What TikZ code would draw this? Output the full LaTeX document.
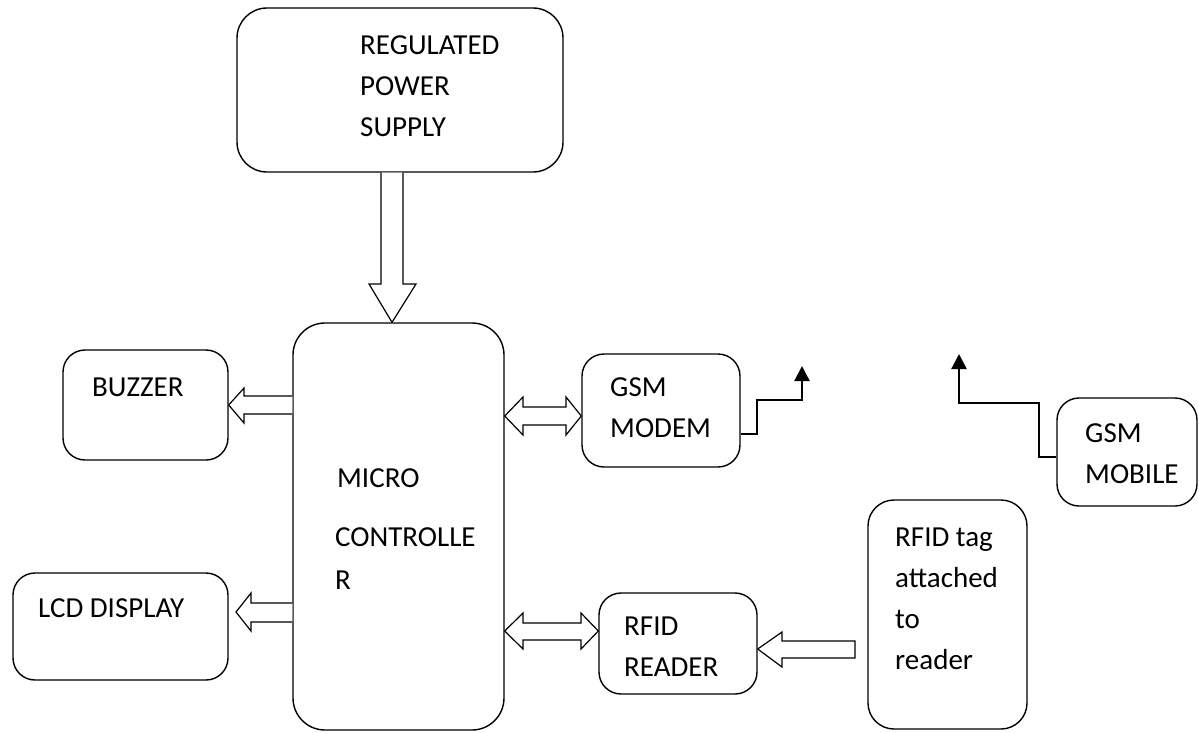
\documentclass[tikz,border=0pt]{standalone}
\usepackage{fontspec}
\setmainfont{Carlito}
\usetikzlibrary{arrows.meta}
\usetikzlibrary{positioning}

\begin{document}
\begin{tikzpicture}[x=1pt, y=-1pt,
  box/.style={draw, line width=1.4pt, rounded corners=22pt, inner sep=0pt},
  txt/.style={anchor=base west, inner sep=0pt, align=left, font=\fontsize{29}{41}\selectfont},
  blockpfeil/.style={draw, line width=1.2pt, fill=white},
  antenne/.style={line width=2.2pt, -{Triangle[width=15pt,length=15pt]}}]

  % Rahmen
  \useasboundingbox (0,0) rectangle (1199,732);

  % Bloecke
  \node[box, rounded corners=30pt, minimum width=326pt, minimum height=164pt] (rps) at (400,90) {};
  \node[box, rounded corners=32pt, minimum width=211pt, minimum height=407pt] (mc) at (398.5,526.5) {};
  \node[box, minimum width=165pt, minimum height=110pt] (buzzer) at (145.5,405) {};
  \node[box, minimum width=215pt, minimum height=107pt] (lcd) at (120.5,626.5) {};
  \node[box, minimum width=158pt, minimum height=113pt] (modem) at (661,410.5) {};
  \node[box, minimum width=158pt, minimum height=101pt] (reader) at (678,643.5) {};
  \node[box, minimum width=140pt, minimum height=108pt] (mobile) at (1127,452) {};
  \node[box, rounded corners=26pt, minimum width=159pt, minimum height=229pt] (tag) at (947.5,614.5) {};

  % Beschriftungen (Grundlinie der letzten Zeile)
  \node[txt] (rpsText) at (360,136) {REGULATED\\POWER\\SUPPLY};
  \node[txt] (mcText) at (337,487) {MICRO};
  \node[txt, font=\fontsize{29}{43}\selectfont] (mcText2) at (335,589) {CONTROLLE\\R};
  \node[txt] (buzzerText) at (92,396) {BUZZER};
  \node[txt] (lcdText) at (38,617) {LCD DISPLAY};
  \node[txt] (modemText) at (610,437) {GSM\\MODEM};
  \node[txt] (readerText) at (624,676) {RFID\\READER};
  \node[txt] (mobileText) at (1085,483) {GSM\\MOBILE};
  \node[txt] (tagText) at (895,669) {RFID tag\\attached\\to\\reader};

  % Blockpfeile
  \draw[blockpfeil] (rps.south -| 381,0) -- (381,284) -- (369,284) -- (mc.north -| 392,0)
    -- (416,284) -- (403,284) -- (rps.south -| 403,0);
  \draw[blockpfeil] (mc.west |- 0,396) -- (244,396) -- (244,388) -- (buzzer.east |- 0,405)
    -- (244,423) -- (244,414) -- (mc.west |- 0,414);
  \draw[blockpfeil] (mc.west |- 0,603) -- (251,603) -- (251,593) -- (236,612)
    -- (251,631) -- (251,622) -- (mc.west |- 0,622);
  \draw[blockpfeil] (mc.east |- 0,416) -- (523,397) -- (523,407) -- (566,407) -- (566,397)
    -- (modem.west |- 0,416) -- (566,435) -- (566,425) -- (523,425) -- (523,435) -- cycle;
  \draw[blockpfeil] (mc.east |- 0,631) -- (523,613) -- (523,623) -- (581,623) -- (581,613)
    -- (reader.west |- 0,631) -- (581,649) -- (581,640) -- (523,640) -- (523,649) -- cycle;
  \draw[blockpfeil] (855,641) -- (782,641) -- (782,632) -- (reader.east |- 0,649)
    -- (782,667) -- (782,658) -- (855,658) -- cycle;

  % Antennen
  \coordinate (antM) at (802,366);
  \coordinate (antG) at (959,354);
  \draw[antenne] (modem.east |- 0,434) -| (757,400) -| (antM);
  \draw[antenne] (mobile.west |- 0,457) -| (1039,403) -| (antG);

\end{tikzpicture}
\end{document}
